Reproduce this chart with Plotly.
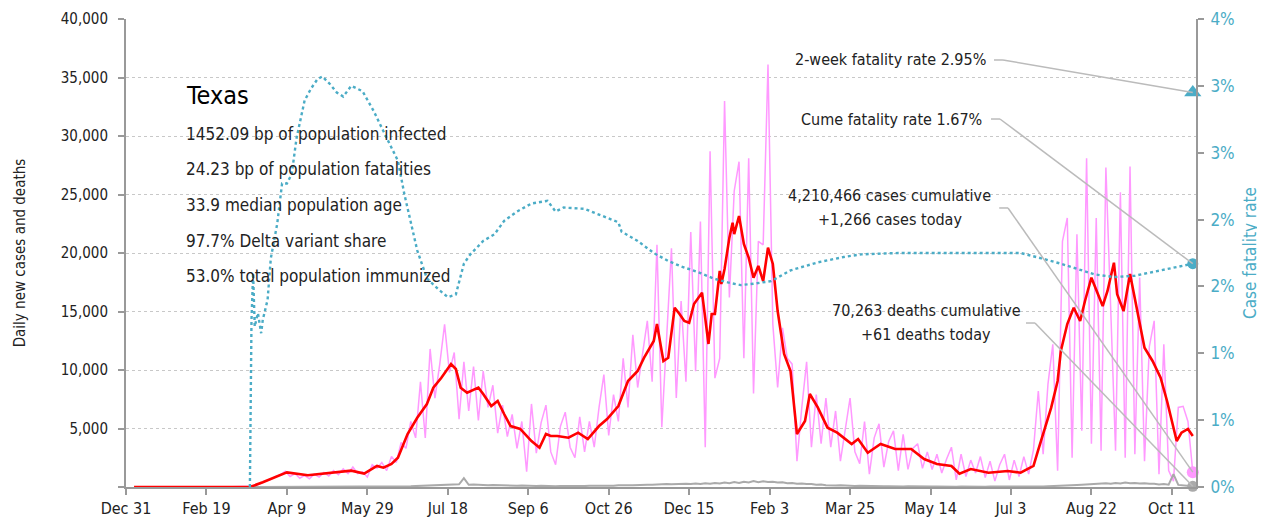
import pandas as pd
import plotly.graph_objects as go

# ---------------- data ----------------
START = pd.Timestamp("2019-12-31")
X_END_DAY = 665

tick_days = [0, 50, 100, 150, 200, 250, 300, 350, 400, 450, 500, 550, 600, 650]
tick_labels = ["Dec 31", "Feb 19", "Apr 9", "May 29", "Jul 18", "Sep 6", "Oct 26",
               "Dec 15", "Feb 3", "Mar 25", "May 14", "Jul 3", "Aug 22", "Oct 11"]

# daily series sampled every 3 days starting at day 60
daily_start_day = 60
daily_step = 3
daily_cases = [
    0, 0, 0, 0, 0, 10, 60, 150, 350, 500, 650, 900, 1050, 1350, 900, 1150, 750, 1000, 700, 1100,
    850, 1250, 950, 1400, 1050, 1550, 1150, 1700, 1150, 1300, 850, 1900, 1600, 2100, 1400, 2600, 2100, 3800, 3300, 5600,
    4200, 9000, 4200, 11800, 7600, 10500, 13900, 9800, 11500, 5800, 10700, 6500, 10300, 5700, 9900, 6800, 8700, 4600, 7000, 4300,
    6200, 3300, 5600, 1300, 7100, 2900, 5500, 7000, 3000, 1900, 5200, 6400, 3400, 2500, 6000, 3000, 5600, 3400, 6800, 9600,
    4400, 7900, 5600, 11000, 6800, 13000, 8500, 11500, 14200, 9000, 20700, 5100, 13000, 20400, 7600, 15900, 9000, 21800, 9900, 22700,
    3400, 28700, 9300, 11000, 33000, 16200, 25300, 27800, 11000, 28100, 8000, 21000, 20700, 36100, 13900, 8500, 13600, 11000, 10500, 2200,
    6800, 10700, 3400, 7900, 3700, 7600, 3400, 6500, 2200, 4800, 7600, 3000, 2000, 5600, 1100, 4200, 5400, 1700, 3900, 4800,
    1400, 4500, 1500, 3300, 3700, 1600, 3000, 1500, 2800, 1200, 2400, 3400, 600, 2800, 900, 2300, 1200, 2600, 800, 2200,
    500, 1900, 2800, 600, 2300, 900, 2600, 1100, 3200, 8200, 2800, 8800, 12200, 1400, 21000, 23000, 2500, 21600, 4800, 28100,
    3700, 23000, 3100, 27300, 16000, 3100, 25200, 2500, 27400, 2800, 17900, 2200, 12000, 14200, 1100, 12200, 1400, 500, 6800, 6900,
    5600, 1266,
]
daily_deaths = [
    0, 0, 0, 0, 0, 0,
    2, 5, 10, 20, 30, 35, 45, 40,
    35, 45, 30, 40, 50, 35, 40, 30, 45, 35, 30, 40, 25, 35, 30, 25, 35, 30, 40, 30, 35, 30, 40, 45, 50, 60, 80,
    100, 130, 120, 160, 150, 190, 170, 200, 230, 750, 190, 210, 180, 190, 160, 170, 150, 140, 120, 150, 110, 130, 100, 120, 90,
    100, 80, 110, 70, 90, 80, 100, 70, 90, 80, 100, 90, 110, 100, 120,
    110, 140, 120, 160, 150, 180, 170, 200, 190, 220, 210, 250, 230, 260, 240, 280, 250,
    300, 250, 320, 280, 350, 300, 380, 330, 420, 350, 450, 380, 500, 400, 480, 420, 450, 380, 400, 330,
    350, 280, 300, 250, 260, 200, 210, 150, 170, 130, 140, 110, 120, 90, 100, 80, 90, 70,
    80, 60, 70, 50, 60, 45, 55, 40, 50, 45, 40, 35, 45, 30, 40, 35, 30, 40, 25, 35, 30, 40, 25, 35, 30, 35, 30, 25, 35, 30, 40, 30,
    35, 45, 40, 60, 70, 90, 100, 130, 150, 180, 200, 230, 250, 280, 300, 330, 280, 350, 300, 380, 320, 350, 300, 330, 270, 280, 220, 250, 200, 1100,
    180, 150, 120, 61,
]

# 7-day average of new cases (day offset from Dec 31 2019, value)
avg_days = [5, 77, 85, 92, 100, 113, 129, 140, 148, 156, 160, 165, 169, 175, 181, 187, 191, 196, 202, 205,
            208, 212, 219, 222, 227, 231, 235, 239, 245, 252, 257, 261, 264, 268, 275, 281, 287, 294, 299, 306,
            312, 318, 322, 328, 330, 334, 337, 341, 344, 347, 350, 353, 358, 362, 364, 366, 369, 370, 372, 375,
            377, 378, 381, 384, 387, 390, 393, 396, 399, 402, 405, 409, 413, 417, 422, 425, 430, 436, 442, 451,
            455, 461, 469, 478, 488, 496, 504, 513, 518, 525, 536, 548, 556, 560, 564, 567, 571, 575, 579, 581,
            585, 589, 593, 596, 600, 604, 607, 610, 614, 616, 620, 624, 627, 633, 638, 643, 647, 653, 656, 660, 663]
avg_cases = [0, 0, 400, 800, 1250, 1000, 1250, 1400, 1150, 1800, 1650, 1965, 2500, 4530, 5920, 7090, 8490, 9340, 10510, 10085,
             8490, 8060, 8490, 7950, 6920, 7350, 6240, 5210, 4960, 3930, 3360, 4530, 4360, 4360, 4215, 4640, 4100, 5210, 5810, 6920,
             9060, 9915, 11050, 12480, 13930, 10770, 11050, 15325, 14785, 14190, 14040, 15640, 16610, 12225, 14785, 14785, 18460, 17350, 18630, 21310,
             22590, 21620, 23160, 20770, 19600, 17890, 18890, 17600, 20450, 19060, 15040, 11370, 9915, 4530, 5640, 7950, 6780, 5070, 4640, 3675,
             4100, 2930, 3675, 3250, 3250, 2390, 1965, 1795, 1140, 1540, 1225, 1370, 1225, 1500, 1800, 3200, 5070, 6780, 9060, 11620,
             13930, 15325, 14190, 15900, 17890, 16470, 15470, 16750, 19170, 16470, 15040, 18200, 16180, 11900, 10770, 9340, 7350, 3930, 4640, 4960, 4360]

# cumulative case fatality rate, percent
cfr_days = [77, 78, 79, 80, 82, 84, 85, 88, 90, 94, 97, 100, 103, 106, 111, 115, 119, 122, 127, 131,
            135, 140, 147, 150, 154, 160, 169, 173, 177, 181, 187, 194, 200, 205, 210, 214, 222, 229, 235, 243,
            252, 262, 267, 272, 285, 295, 306, 308, 318, 328, 337, 345, 357, 365, 374, 382, 390, 401, 413, 430,
            446, 457, 480, 525, 556, 569, 581, 602, 614, 627, 643, 663]
cfr_pct = [0, 1.25, 1.6, 1.2, 1.3, 1.15, 1.25, 1.4, 1.71, 1.97, 2.27, 2.27, 2.34, 2.61, 2.89, 2.98, 3.05, 3.07, 3.01, 2.95,
           2.92, 3.0, 2.96, 2.9, 2.81, 2.66, 2.44, 2.19, 1.97, 1.77, 1.56, 1.48, 1.42, 1.44, 1.67, 1.74, 1.84, 1.89, 1.99, 2.06,
           2.12, 2.14, 2.06, 2.09, 2.08, 2.03, 1.98, 1.91, 1.84, 1.75, 1.69, 1.65, 1.60, 1.56, 1.53, 1.51, 1.52, 1.54, 1.62, 1.68,
           1.72, 1.74, 1.75, 1.75, 1.75, 1.71, 1.67, 1.59, 1.57, 1.58, 1.62, 1.67]

last_day = 663
two_week_rate_pct = 2.95
cume_rate_pct = 1.67
cum_cases = 4210466
cases_today = 1266
cum_deaths = 70263
deaths_today = 61

state_name = "Texas"
stat_lines = ["1452.09 bp of population infected",
              "24.23 bp of population fatalities",
              "33.9 median population age",
              "97.7% Delta variant share",
              "53.0% total population immunized"]

rate_ticks = [0, 0.5, 1.0, 1.5, 2.0, 2.5, 3.0, 3.5]
rate_tick_text = ["0%", "1%", "1%", "2%", "2%", "3%", "3%", "4%"]

# ---------------- styling ----------------
FONT = "DejaVu Sans Condensed, DejaVu Sans, sans-serif"
BLUE = "#4bacc6"
PINK = "#ff99ff"
RED = "#ff0000"
GRAY = "#aaaaaa"
AXIS = "#999999"
TXT = "#222222"

Y_MAX = 40000
R_MAX = 3.5

def d2t(d):
    return START + pd.Timedelta(days=d)

daily_x = [d2t(daily_start_day + daily_step * i) for i in range(len(daily_cases))]
assert len(daily_cases) == len(daily_deaths)

fig = go.Figure()
fig.add_trace(go.Scatter(x=daily_x, y=daily_cases, mode="lines",
                         line=dict(color=PINK, width=1.5), yaxis="y"))
fig.add_trace(go.Scatter(x=daily_x, y=daily_deaths, mode="lines",
                         line=dict(color=GRAY, width=2), yaxis="y"))
fig.add_trace(go.Scatter(x=[d2t(d) for d in avg_days], y=avg_cases, mode="lines",
                         line=dict(color=RED, width=2.6), yaxis="y"))
fig.add_trace(go.Scatter(x=[d2t(d) for d in cfr_days], y=cfr_pct, mode="lines",
                         line=dict(color=BLUE, width=2.4, dash="dot"), yaxis="y2"))

# end markers
fig.add_trace(go.Scatter(x=[d2t(last_day)], y=[two_week_rate_pct], mode="markers",
                         marker=dict(symbol="triangle-up", size=15, color=BLUE), yaxis="y2", cliponaxis=False))
fig.add_trace(go.Scatter(x=[d2t(last_day)], y=[cume_rate_pct], mode="markers",
                         marker=dict(symbol="circle", size=11, color=BLUE), yaxis="y2", cliponaxis=False))
fig.add_trace(go.Scatter(x=[d2t(last_day)], y=[cases_today], mode="markers",
                         marker=dict(symbol="circle", size=12, color=PINK), yaxis="y", cliponaxis=False))
fig.add_trace(go.Scatter(x=[d2t(last_day)], y=[deaths_today], mode="markers",
                         marker=dict(symbol="circle", size=11, color=GRAY), yaxis="y", cliponaxis=False))

# ---------------- annotations ----------------
def px_x(d):
    return d / X_END_DAY

anns = []
anns.append(dict(x=0.054, y=0.8355, xref="paper", yref="paper", text=state_name,
                 showarrow=False, xanchor="left", yanchor="middle",
                 font=dict(size=25, color="#000", family=FONT)))
stat_y = [0.7543, 0.6795, 0.6026, 0.5256, 0.4509]
for s, yy in zip(stat_lines, stat_y):
    anns.append(dict(x=0.054, y=yy, xref="paper", yref="paper", text=s,
                     showarrow=False, xanchor="left", yanchor="middle",
                     font=dict(size=17, color=TXT, family=FONT)))

label_font = dict(size=16, color=TXT, family=FONT)
text_items = [
    (f"2-week fatality rate {two_week_rate_pct:.2f}%", 0.8056, 0.9124, "right"),
    (f"Cume fatality rate {cume_rate_pct:.2f}%", 0.8019, 0.7863, "right"),
    (f"{cum_cases:,} cases cumulative", 0.7140, 0.6218, "center"),
    (f"+{cases_today:,} cases today", 0.7140, 0.5726, "center"),
    (f"{cum_deaths:,} deaths cumulative", 0.7477, 0.3761, "center"),
    (f"+{deaths_today:,} deaths today", 0.7477, 0.3248, "center"),
]
for text, x, y, anchor in text_items:
    anns.append(dict(x=x, y=y, xref="paper", yref="paper", text=text, showarrow=False,
                     xanchor=anchor, yanchor="middle", font=label_font))

leaders = [
    (0.8112, 0.8196, 0.9124, two_week_rate_pct / R_MAX),
    (0.8084, 0.8168, 0.7863, cume_rate_pct / R_MAX),
    (0.8161, 0.8243, 0.5962, cases_today / Y_MAX),
    (0.8411, 0.8495, 0.3504, deaths_today / Y_MAX),
]
shapes = []
for sx0, sx1, y, yend in leaders:
    shapes.append(dict(type="line", xref="paper", yref="paper", x0=sx0, x1=sx1, y0=y, y1=y,
                       line=dict(color="#bbbbbb", width=1.5)))
    shapes.append(dict(type="line", xref="paper", yref="paper", x0=sx1, y0=y, x1=px_x(last_day), y1=yend,
                       line=dict(color="#bbbbbb", width=1.5)))

fig.update_layout(
    width=1265, height=525,
    margin=dict(l=118, r=77, t=11, b=46, autoexpand=False),
    paper_bgcolor="white", plot_bgcolor="white",
    showlegend=False,
    font=dict(family=FONT, color=TXT, size=16),
    annotations=anns, shapes=shapes,
    xaxis=dict(type="date", range=[d2t(0), d2t(X_END_DAY)], automargin=False,
               tickvals=[d2t(d) for d in tick_days], ticktext=tick_labels,
               ticks="outside", ticklen=6, tickcolor=AXIS, tickwidth=1.5,
               showline=True, linecolor=AXIS, linewidth=2, showgrid=False, zeroline=False,
               tickfont=dict(size=16, color=TXT, family=FONT)),
    yaxis=dict(range=[0, Y_MAX], tickvals=list(range(0, 40001, 5000)), automargin=False,
               ticktext=[""] + [f"{v:,}" for v in range(5000, 40001, 5000)],
               ticks="outside", ticklen=6, tickcolor=AXIS, tickwidth=1.5, ticklabelstandoff=7,
               showline=True, linecolor=AXIS, linewidth=2,
               showgrid=True, gridcolor="#c8c8c8", griddash="dot", gridwidth=1, zeroline=False,
               tickfont=dict(size=15, color=TXT, family=FONT),
               title=dict(text="Daily new cases and deaths", font=dict(size=15, color=TXT, family=FONT), standoff=32)),
    yaxis2=dict(range=[0, R_MAX], overlaying="y", side="right", anchor="x", automargin=False,
                tickvals=rate_ticks, ticktext=rate_tick_text,
                ticks="outside", ticklen=6, tickcolor=AXIS, tickwidth=1.5, ticklabelstandoff=3,
                showline=True, linecolor=AXIS, linewidth=2, showgrid=False, zeroline=False,
                tickfont=dict(size=17, color=BLUE, family=FONT),
                title=dict(text="Case fatality rate", font=dict(size=17, color=BLUE, family=FONT), standoff=10)),
)

fig.write_html("out.html")
